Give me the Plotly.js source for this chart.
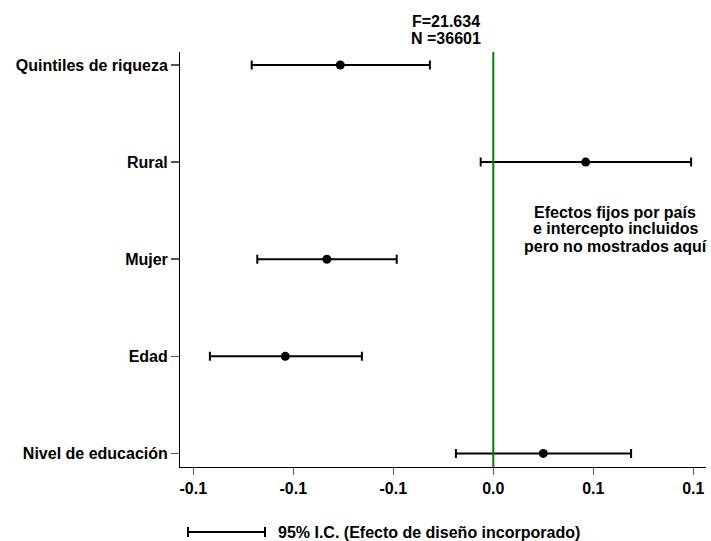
<!DOCTYPE html>
<html>
<head>
<meta charset="utf-8">
<script src="https://cdn.plot.ly/plotly-3.0.1.min.js"></script>
<style>html,body{margin:0;padding:0;background:#fff;}#chart{width:711px;height:541px;}</style>
</head>
<body>
<div id="chart"></div>
<script>
// Data
const categories = ["Nivel de educación", "Edad", "Mujer", "Rural", "Quintiles de riqueza"];
const estimates  = [0.0250, -0.1040, -0.0832, 0.0462, -0.0765];
const lowerCI    = [-0.0187, -0.1417, -0.1180, -0.0063, -0.1208];
const upperCI    = [0.0689, -0.0657, -0.0483, 0.0989, -0.0317];
const tickValues = [-0.15, -0.10, -0.05, 0, 0.05, 0.10];
const tickLabels = ["-0.1", "-0.1", "-0.1", "0.0", "0.1", "0.1"];
const statLines  = ["F=21.634", "N =36601"];
const noteLines  = ["Efectos fijos por país", "e intercepto incluidos", "pero no mostrados aquí"];
const legendText = "95% I.C. (Efecto de diseño incorporado)";

const FONT = "Liberation Sans, Arial, sans-serif";

const trace = {
  type: "scatter",
  mode: "markers",
  x: estimates,
  y: categories,
  marker: {color: "black", size: 9},
  error_x: {
    type: "data",
    symmetric: false,
    array: upperCI.map((u, i) => u - estimates[i]),
    arrayminus: lowerCI.map((l, i) => estimates[i] - l),
    color: "black",
    thickness: 2,
    width: 4.5
  },
  hoverinfo: "skip",
  showlegend: false
};

const L = 180, R = 706, T = 52, B = 467;
const W = R - L, H = B - T;
const px = v => (v - L) / W;
const py = v => (B - v) / H;

const annotations = [];
statLines.forEach((t, i) => annotations.push({
  text: "<b>" + t + "</b>", xref: "paper", yref: "paper",
  x: px(446), y: py(22 + i * 17), xanchor: "center", yanchor: "middle",
  showarrow: false, font: {family: FONT, size: 16, color: "black"}
}));
noteLines.forEach((t, i) => annotations.push({
  text: "<b>" + t + "</b>", xref: "paper", yref: "paper",
  x: px(615), y: py(212 + i * 17), xanchor: "center", yanchor: "middle",
  showarrow: false, font: {family: FONT, size: 16, color: "black"}
}));
annotations.push({
  text: "<b>" + legendText + "</b>", xref: "paper", yref: "paper",
  x: px(276), y: py(532), xanchor: "left", yanchor: "middle",
  showarrow: false, font: {family: FONT, size: 16, color: "black"}
});

const shapes = [
  {type: "line", xref: "x", yref: "paper", x0: 0, x1: 0, y0: 0, y1: 1,
   line: {color: "#008000", width: 2}},
  // legend sample
  {type: "line", xref: "paper", yref: "paper", x0: px(188), x1: px(265), y0: py(532), y1: py(532),
   line: {color: "black", width: 2}},
  {type: "line", xref: "paper", yref: "paper", x0: px(188), x1: px(188), y0: py(527), y1: py(537),
   line: {color: "black", width: 2}},
  {type: "line", xref: "paper", yref: "paper", x0: px(265), x1: px(265), y0: py(527), y1: py(537),
   line: {color: "black", width: 2}}
];

const layout = {
  width: 711, height: 541,
  margin: {l: L, r: 711 - R, t: T, b: 541 - B, pad: 0},
  paper_bgcolor: "white", plot_bgcolor: "white",
  font: {family: FONT, size: 16, color: "black"},
  showlegend: false,
  xaxis: {
    range: [(L - 493.3) / 2000, (R - 493.3) / 2000],
    tickmode: "array", tickvals: tickValues, ticktext: tickLabels.map(t => "<b>" + t + "</b>"),
    showgrid: false, zeroline: false,
    showline: true, linecolor: "black", linewidth: 1,
    ticks: "outside", ticklen: 7, tickwidth: 1.5, tickcolor: "#555",
    tickfont: {family: FONT, size: 16, color: "black"}
  },
  yaxis: {
    type: "category", categoryorder: "array", categoryarray: categories,
    range: [-0.14, 4.134],
    tickmode: "array", tickvals: categories, ticktext: categories.map(c => "<b>" + c + "</b>"),
    showgrid: false, zeroline: false,
    showline: true, linecolor: "black", linewidth: 1,
    ticks: "outside", ticklen: 8, tickwidth: 1.5, tickcolor: "#555",
    tickfont: {family: FONT, size: 16, color: "black"}
  },
  annotations: annotations,
  shapes: shapes
};

Plotly.newPlot("chart", [trace], layout, {displayModeBar: false, staticPlot: true});
</script>
</body>
</html>
